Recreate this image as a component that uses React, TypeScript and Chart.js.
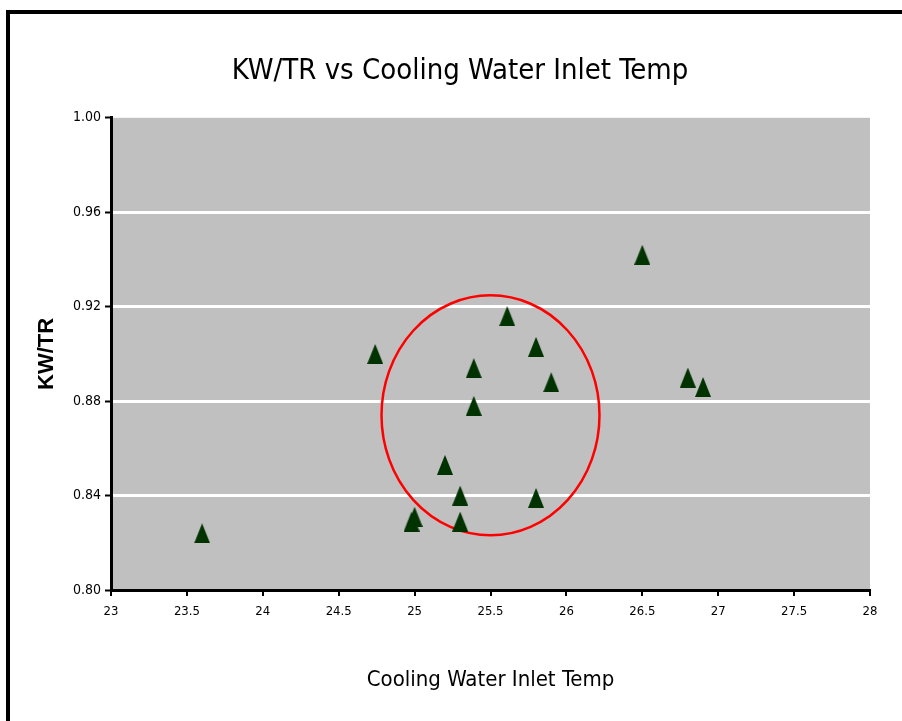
import React, { useEffect, useRef } from "react";
import { Chart, registerables } from "chart.js";

Chart.register(...registerables);

// Data
const inletTemp = [23.6, 24.74, 24.98, 25.0, 25.2, 25.3, 25.3, 25.39, 25.39, 25.61, 25.8, 25.9, 25.8, 26.5, 26.8, 26.9];
const kwPerTr = [0.824, 0.9, 0.829, 0.831, 0.853, 0.84, 0.829, 0.894, 0.878, 0.916, 0.903, 0.888, 0.839, 0.942, 0.89, 0.886];
const xTicks = [23, 23.5, 24, 24.5, 25, 25.5, 26, 26.5, 27, 27.5, 28];
const yTicks = [0.8, 0.84, 0.88, 0.92, 0.96, 1.0];
const circleCenter = [25.5, 0.874];
const circleRadius = [0.718, 0.0508];

const TITLE = "KW/TR vs Cooling Water Inlet Temp";
const X_TITLE = "Cooling Water Inlet Temp";
const Y_TITLE = "KW/TR";

const NARROW = "'Liberation Sans Narrow', 'Arial Narrow', 'DejaVu Sans Condensed', 'Liberation Sans', Arial, sans-serif";
const SANS = "'Liberation Sans', Arial, sans-serif";

export default function App() {
  const ref = useRef<HTMLCanvasElement>(null);

  useEffect(() => {
    if (!ref.current) return;
    const tri = document.createElement("canvas");
    tri.width = 16;
    tri.height = 20;
    const tctx = tri.getContext("2d")!;
    tctx.fillStyle = "#003300";
    tctx.beginPath();
    tctx.moveTo(8, 0);
    tctx.lineTo(16, 20);
    tctx.lineTo(0, 20);
    tctx.closePath();
    tctx.fill();

    const bgPlugin = {
      id: "plotBg",
      beforeDraw(chart: any) {
        const { ctx, chartArea } = chart;
        ctx.save();
        ctx.fillStyle = "#C0C0C0";
        ctx.fillRect(chartArea.left, chartArea.top, chartArea.right - chartArea.left, chartArea.bottom - chartArea.top);
        ctx.restore();
      },
    };

    const circlePlugin = {
      id: "redCircle",
      beforeDatasetsDraw(chart: any) {
        const { ctx } = chart;
        const xs = chart.scales.x;
        const ys = chart.scales.y;
        const cx = xs.getPixelForValue(circleCenter[0]);
        const cy = ys.getPixelForValue(circleCenter[1]);
        const rx = Math.abs(xs.getPixelForValue(circleCenter[0] + circleRadius[0]) - cx);
        const ry = Math.abs(ys.getPixelForValue(circleCenter[1] + circleRadius[1]) - cy);
        ctx.save();
        ctx.strokeStyle = "#FF0000";
        ctx.lineWidth = 2.5;
        ctx.beginPath();
        ctx.ellipse(cx, cy, rx, ry, 0, 0, Math.PI * 2);
        ctx.stroke();
        ctx.restore();
      },
    };

    const chart = new Chart(ref.current, {
      type: "scatter",
      data: {
        datasets: [
          {
            label: Y_TITLE,
            data: inletTemp.map((x, i) => ({ x, y: kwPerTr[i] })),
            pointStyle: tri as any,
            pointRadius: 9,
            pointHoverRadius: 9,
            backgroundColor: "#003300",
            borderColor: "#003300",
          },
        ],
      },
      options: {
        animation: false,
        responsive: false,
        layout: { padding: { left: 50, right: 32, top: 0, bottom: 0 } },
        plugins: {
          legend: { display: false },
          tooltip: { enabled: false },
          title: {
            display: true,
            text: TITLE,
            color: "#000000",
            font: { family: NARROW, size: 29, weight: "normal" },
            padding: { top: 54, bottom: 29 },
          },
        },
        scales: {
          x: {
            type: "linear",
            min: xTicks[0],
            max: xTicks[xTicks.length - 1],
            afterBuildTicks: (s: any) => {
              s.ticks = xTicks.map((v) => ({ value: v }));
            },
            afterFit: (s: any) => {
              s.height = 131;
            },
            ticks: {
              autoSkip: false,
              maxRotation: 0,
              color: "#000000",
              padding: 8,
              font: { family: NARROW, size: 13 },
              callback: (v: any) => String(v),
            },
            grid: {
              drawOnChartArea: false,
              drawTicks: true,
              tickLength: 6,
              color: "#000000",
              lineWidth: 2,
            },
            border: { display: true, color: "#000000", width: 3 },
            title: {
              display: true,
              text: X_TITLE,
              color: "#000000",
              font: { family: NARROW, size: 22, weight: "normal" },
              padding: { top: 0, bottom: 28 },
            },
          },
          y: {
            type: "linear",
            min: yTicks[0],
            max: yTicks[yTicks.length - 1],
            afterBuildTicks: (s: any) => {
              s.ticks = yTicks.map((v) => ({ value: v }));
            },
            afterFit: (s: any) => {
              s.width = 61;
            },
            ticks: {
              color: "#000000",
              padding: 4,
              font: { family: NARROW, size: 14 },
              callback: (v: any) => Number(v).toFixed(2),
            },
            grid: {
              drawTicks: true,
              tickLength: 6,
              lineWidth: 3,
              color: (c: any) => {
                const v = c.tick ? c.tick.value : 0;
                return v > 0.81 && v < 0.99 ? "#FFFFFF" : "rgba(0,0,0,0)";
              },
              tickColor: "#000000",
              tickWidth: 2,
            },
            border: { display: true, color: "#000000", width: 3 },
            title: {
              display: true,
              text: Y_TITLE,
              color: "#000000",
              font: { family: SANS, size: 22, weight: "bold" },
              padding: { top: -16.2, bottom: 0 },
            },
          },
        },
      } as any,
      plugins: [bgPlugin, circlePlugin],
    });

    return () => chart.destroy();
  }, []);

  return (
    <div
      style={{
        position: "fixed",
        left: 0,
        top: 0,
        width: 902,
        height: 721,
        overflow: "hidden",
        background: "#FFFFFF",
      }}
    >
      <div
        style={{
          position: "absolute",
          left: 6,
          top: 10,
          width: 1000,
          height: 1000,
          borderLeft: "4px solid #000000",
          borderTop: "4px solid #000000",
        }}
      />
      <canvas ref={ref} width={902} height={721} style={{ position: "absolute", left: 0, top: 0 }} />
    </div>
  );
}
